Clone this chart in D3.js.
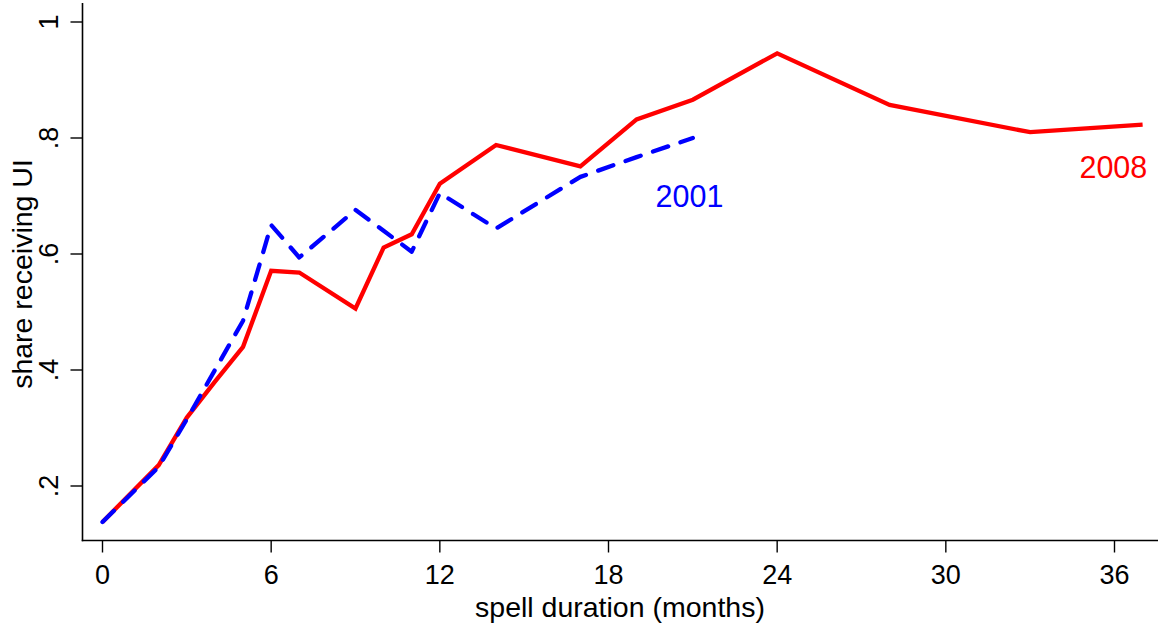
<!DOCTYPE html>
<html>
<head>
<meta charset="utf-8">
<script src="https://cdn.jsdelivr.net/npm/d3@7"></script>
<style>
  html, body { margin: 0; padding: 0; background: #fff; }
  svg { display: block; font-family: "Liberation Sans", Arial, sans-serif; }
</style>
</head>
<body>
<svg id="chart" width="1158" height="625"></svg>
<script>
// ---- data ----
const months2008 = [0, 2, 3, 4, 5, 6, 7, 9, 10, 11, 12, 14, 17, 19, 21, 24, 28, 33, 37];
const share2008  = [0.138, 0.236, 0.318, 0.38, 0.44, 0.571, 0.568, 0.506, 0.611, 0.634, 0.721, 0.788, 0.751, 0.832, 0.866, 0.946, 0.857, 0.810, 0.823];
const months2001 = [0, 2, 3, 4, 5, 6, 7, 9, 10, 11, 12, 14, 17, 19, 21];
const share2001  = [0.138, 0.233, 0.315, 0.40, 0.485, 0.65, 0.594, 0.676, 0.64, 0.604, 0.705, 0.644, 0.733, 0.767, 0.80];
const xTicks = [0, 6, 12, 18, 24, 30, 36];
const yTicks = [0.2, 0.4, 0.6, 0.8, 1];
const yTickLabels = [".2", ".4", ".6", ".8", "1"];
const seriesNames = ["2001", "2008"];
const labelMonth = [20.88, 35.96];
const labelShare = [0.6805, 0.7305];
const xTitle = "spell duration (months)";
const yTitle = "share receiving UI";

// ---- layout ----
const svg = d3.select("#chart");
const x = d3.scaleLinear().domain([0, 36]).range([102.5, 1114.5]);
const y = d3.scaleLinear().domain([0.2, 1]).range([486, 22]);
const axisLeftX = 82.5, axisBottomY = 540.5, axisTopY = 3, axisRightX = 1158;

// axes lines
svg.append("line").attr("x1", axisLeftX).attr("x2", axisLeftX)
  .attr("y1", axisTopY).attr("y2", axisBottomY + 0.75)
  .attr("stroke", "#000").attr("stroke-width", 1.6);
svg.append("line").attr("x1", axisLeftX - 0.75).attr("x2", axisRightX)
  .attr("y1", axisBottomY).attr("y2", axisBottomY)
  .attr("stroke", "#000").attr("stroke-width", 1.6);

// x ticks
const xt = svg.append("g");
xt.selectAll("line").data(xTicks).join("line")
  .attr("x1", d => x(d)).attr("x2", d => x(d))
  .attr("y1", axisBottomY).attr("y2", axisBottomY + 12)
  .attr("stroke", "#000").attr("stroke-width", 1.4);
xt.selectAll("text").data(xTicks).join("text")
  .attr("x", d => x(d)).attr("y", 584)
  .attr("text-anchor", "middle").attr("font-size", 27).attr("fill", "#000")
  .text(d => d);
svg.append("text").attr("x", 620).attr("y", 616.5)
  .attr("text-anchor", "middle").attr("font-size", 28.5).attr("fill", "#000")
  .text(xTitle);

// y ticks
const yt = svg.append("g");
yt.selectAll("line").data(yTicks).join("line")
  .attr("x1", axisLeftX - 12).attr("x2", axisLeftX)
  .attr("y1", d => y(d)).attr("y2", d => y(d))
  .attr("stroke", "#000").attr("stroke-width", 1.4);
yt.selectAll("text").data(yTicks).join("text")
  .attr("transform", d => `translate(58,${y(d)}) rotate(-90)`)
  .attr("text-anchor", "middle").attr("font-size", 27).attr("fill", "#000")
  .text((d, i) => yTickLabels[i]);
svg.append("text")
  .attr("transform", `translate(32,274) rotate(-90)`)
  .attr("text-anchor", "middle").attr("font-size", 28.5).attr("fill", "#000")
  .text(yTitle);

// lines
const line = d3.line().x(d => x(d[0])).y(d => y(d[1]));
const data2008 = months2008.map((m, i) => [m, share2008[i]]);
const data2001 = months2001.map((m, i) => [m, share2001[i]]);

svg.append("path").datum(data2008).attr("d", line)
  .attr("fill", "none").attr("stroke", "#ff0000").attr("stroke-width", 4.3)
  .attr("stroke-linejoin", "miter");
svg.append("path").datum(data2001).attr("d", line)
  .attr("fill", "none").attr("stroke", "#0000ff").attr("stroke-width", 4.3)
  .attr("stroke-dasharray", "16,13").attr("stroke-linecap", "round")
  .attr("stroke-linejoin", "round");

// series labels
const colors = ["#0000ff", "#ff0000"];
svg.selectAll("text.series").data(seriesNames).join("text")
  .attr("class", "series")
  .attr("x", (d, i) => x(labelMonth[i])).attr("y", (d, i) => y(labelShare[i]))
  .attr("text-anchor", "middle").attr("font-size", 30.5).attr("fill", (d, i) => colors[i])
  .text(d => d);
</script>
</body>
</html>
